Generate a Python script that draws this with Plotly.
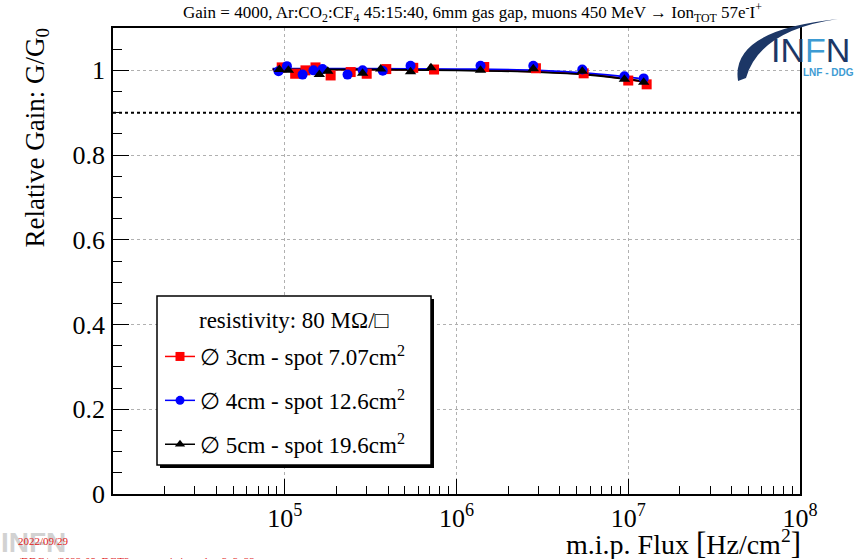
import plotly.graph_objects as go

# ---------------- data ----------------
flux_3cm = [9.6e4, 1.15e5, 1.32e5, 1.51e5, 1.85e5, 2.42e5, 3.0e5, 3.9e5, 5.6e5, 7.4e5, 1.45e6, 2.9e6, 5.5e6, 1.0e7, 1.28e7]
gain_3cm = [1.007, 0.992, 1.000, 1.007, 0.988, 0.996, 0.992, 1.003, 1.006, 1.002, 1.008, 1.005, 0.993, 0.976, 0.967]

flux_4cm = [9.2e4, 1.03e5, 1.27e5, 1.47e5, 1.66e5, 2.32e5, 2.84e5, 3.72e5, 5.4e5, 1.38e6, 2.8e6, 5.4e6, 9.5e6, 1.23e7]
gain_4cm = [0.998, 1.010, 0.990, 1.000, 1.003, 0.990, 1.000, 0.999, 1.011, 1.011, 1.011, 1.002, 0.986, 0.981]

flux_5cm = [9.3e4, 1.05e5, 1.59e5, 1.78e5, 2.84e5, 3.62e5, 5.4e5, 7.1e5, 1.38e6, 2.8e6, 5.4e6, 9.5e6, 1.23e7]
gain_5cm = [1.002, 1.000, 0.990, 0.998, 0.993, 1.003, 0.997, 1.006, 1.000, 1.004, 0.998, 0.979, 0.972]

fit_flux = [8.5e4, 3e5, 1e6, 3e6, 6e6, 1e7, 1.3e7]
fit_3cm = [1.002, 1.002, 1.001, 0.997, 0.990, 0.979, 0.971]
fit_4cm = [1.004, 1.004, 1.003, 1.000, 0.993, 0.984, 0.978]
fit_5cm = [1.002, 1.002, 1.000, 0.996, 0.989, 0.979, 0.972]

labels = ["∅ 3cm - spot 7.07cm<sup>2</sup>", "∅ 4cm - spot 12.6cm<sup>2</sup>", "∅ 5cm - spot 19.6cm<sup>2</sup>"]
legend_title = "resistivity: 80 MΩ/□"
colors = ["#ff0000", "#0000ff", "#000000"]
symbols = ["square", "circle", "triangle-up"]

y_tickvals = [0, 0.2, 0.4, 0.6, 0.8, 1.0]
y_ticktext = ["0", "0.2", "0.4", "0.6", "0.8", "1"]
x_tickvals = [1e5, 1e6, 1e7, 1e8]
x_ticktext = ["10<sup>5</sup>", "10<sup>6</sup>", "10<sup>7</sup>", "10<sup>8</sup>"]
threshold = 0.9

# ---------------- layout geometry ----------------
W, H = 859, 559
L, R, T, B = 113, 800, 28, 494


def px(xp, yp):
    return (xp - L) / (R - L), (B - yp) / (B - T)


SERIF = "Liberation Serif, Times New Roman, serif"
SANS = "Liberation Sans, Arial, sans-serif"

fig = go.Figure()

series = [(flux_3cm, gain_3cm, fit_3cm), (flux_4cm, gain_4cm, fit_4cm), (flux_5cm, gain_5cm, fit_5cm)]
for i, (fx, gy, fit) in enumerate(series):
    fig.add_trace(go.Scatter(x=fit_flux, y=fit, mode="lines", line=dict(color=colors[i], width=1.8, shape="spline"),
                             showlegend=False, hoverinfo="skip"))
for i, (fx, gy, fit) in enumerate(series):
    fig.add_trace(go.Scatter(x=fx, y=gy, mode="markers",
                             marker=dict(color=colors[i], symbol=symbols[i], size=10, line=dict(width=0)),
                             showlegend=False))
for i in range(3):
    fig.add_trace(go.Scatter(x=[None], y=[None], mode="lines+markers", name=labels[i], legendgroup=f"g{i}",
                             line=dict(color=colors[i], width=1.5),
                             marker=dict(color=colors[i], symbol=symbols[i], size=9)))

shapes = []
# threshold line
shapes.append(dict(type="line", xref="paper", yref="y", x0=0, x1=1, y0=threshold, y1=threshold,
                   line=dict(color="black", width=2, dash="dot"), layer="above"))
# legend box with shadow
sx0, sy0 = px(160, 468)
sx1, sy1 = px(434, 299)
shapes.append(dict(type="rect", xref="paper", yref="paper", x0=sx0, y0=sy0, x1=sx1, y1=sy1,
                   fillcolor="black", line=dict(width=0), layer="above"))
bx0, by0 = px(157, 465)
bx1, by1 = px(431, 296)
shapes.append(dict(type="rect", xref="paper", yref="paper", x0=bx0, y0=by0, x1=bx1, y1=by1,
                   fillcolor="white", line=dict(color="black", width=1.5), layer="above"))

# INFN logo swoosh
pts = [px(738, 81), px(730, 30), px(838, 19), px(760, 30), px(746, 78)]
path = "M {:.4f},{:.4f} Q {:.4f},{:.4f} {:.4f},{:.4f} Q {:.4f},{:.4f} {:.4f},{:.4f} Z".format(
    pts[0][0], pts[0][1], pts[1][0], pts[1][1], pts[2][0], pts[2][1], pts[3][0], pts[3][1], pts[4][0], pts[4][1])
shapes.append(dict(type="path", xref="paper", yref="paper", path=path, fillcolor="#1c3766",
                   line=dict(width=0), layer="above"))

annotations = []
# title
tx, ty = px(472, 13)
annotations.append(dict(xref="paper", yref="paper", x=tx, y=ty, xanchor="center", yanchor="middle", showarrow=False,
                        text="Gain = 4000, Ar:CO<sub>2</sub>:CF<sub>4</sub> 45:15:40, 6mm gas gap, muons 450 MeV → Ion<sub>TOT</sub> 57e<sup>-</sup>I<sup>+</sup>",
                        font=dict(family=SERIF, size=17, color="black")))
# y title
yx, yy = px(36, 27)
annotations.append(dict(xref="paper", yref="paper", x=yx, y=yy, xanchor="center", yanchor="top", showarrow=False,
                        textangle=-90, text="Relative Gain: G/G<sub>0</sub>",
                        font=dict(family=SERIF, size=27, color="black")))
# x title
xx, xy = px(803, 543)
annotations.append(dict(xref="paper", yref="paper", x=xx, y=xy, xanchor="right", yanchor="middle", showarrow=False,
                        text="m.i.p. Flux <span style='font-size:31px'>[</span>Hz/cm<sup>2</sup><span style='font-size:31px'>]</span>",
                        font=dict(family=SERIF, size=28, color="black")))
# legend header
hx, hy = px(294, 320)
annotations.append(dict(xref="paper", yref="paper", x=hx, y=hy, xanchor="center", yanchor="middle", showarrow=False,
                        text=legend_title, font=dict(family=SERIF, size=23, color="black")))
# logo text
lx, ly = px(810, 50)
annotations.append(dict(xref="paper", yref="paper", x=lx, y=ly, xanchor="center", yanchor="middle", showarrow=False,
                        text="<span style='color:#1c3766'>IN</span><span style='color:#3d9bd3'>F</span><span style='color:#1c3766'>N</span>",
                        font=dict(family=SANS, size=34)))
lx2, ly2 = px(828, 73)
annotations.append(dict(xref="paper", yref="paper", x=lx2, y=ly2, xanchor="center", yanchor="middle", showarrow=False,
                        text="<b>LNF - DDG</b>", font=dict(family=SANS, size=10, color="#3d9bd3")))
# bottom-left stamp
gx, gy_ = px(-1, 542)
annotations.append(dict(xref="paper", yref="paper", x=gx, y=gy_, xanchor="left", yanchor="middle", showarrow=False,
                        text="<b>INFN</b>", font=dict(family=SANS, size=28, color="#d2d2d2")))
dx, dy = px(16, 541)
annotations.append(dict(xref="paper", yref="paper", x=dx, y=dy, xanchor="left", yanchor="middle", showarrow=False,
                        text="2022/09/29", font=dict(family=SERIF, size=11, color="#e02020")))
ex, ey = px(16, 561)
annotations.append(dict(xref="paper", yref="paper", x=ex, y=ey, xanchor="left", yanchor="middle", showarrow=False,
                        text="/DDG/.../2022-09_DGT3_rate_resistive_plot_3_3_22", font=dict(family=SERIF, size=11, color="#e02020")))

lgx, lgy = px(160, 335)

minor_x = [m * 10 ** e for e in range(4, 8) for m in range(2, 10)]

fig.update_layout(
    width=W, height=H,
    margin=dict(l=L, r=W - R, t=T, b=H - B, pad=0),
    paper_bgcolor="white", plot_bgcolor="white",
    font=dict(family=SERIF, color="black"),
    shapes=shapes, annotations=annotations,
    legend=dict(x=lgx, y=lgy, xanchor="left", yanchor="top", bgcolor="rgba(0,0,0,0)", borderwidth=0,
                font=dict(family=SERIF, size=23, color="black"), itemwidth=30, tracegroupgap=11),
    xaxis=dict(type="log", range=[4, 8], tickvals=x_tickvals, ticktext=x_ticktext, ticks="inside", ticklen=15,
               tickwidth=1.3, tickcolor="black", tickfont=dict(family=SERIF, size=26, color="black"),
               showline=True, linecolor="black", linewidth=1.5, mirror=True,
               showgrid=True, gridcolor="#b0b0b0", griddash="dot", gridwidth=1, zeroline=False,
               minor=dict(tickvals=minor_x, ticks="inside", ticklen=8, tickwidth=1.3, tickcolor="black", showgrid=False)),
    yaxis=dict(range=[0, 1.1], tickvals=y_tickvals, ticktext=y_ticktext, ticks="inside", ticklen=16,
               tickwidth=1.3, tickcolor="black", tickfont=dict(family=SERIF, size=26, color="black"),
               ticklabelstandoff=1,
               showline=True, linecolor="black", linewidth=1.5, mirror=True,
               showgrid=True, gridcolor="#b0b0b0", griddash="dot", gridwidth=1, zeroline=False,
               minor=dict(dtick=0.05, ticks="inside", ticklen=9, tickwidth=1.3, tickcolor="black", showgrid=False)),
)

fig.write_html("out.html", config={"displayModeBar": False},
               post_script="document.body.style.margin='0px';document.body.style.overflow='hidden';")
